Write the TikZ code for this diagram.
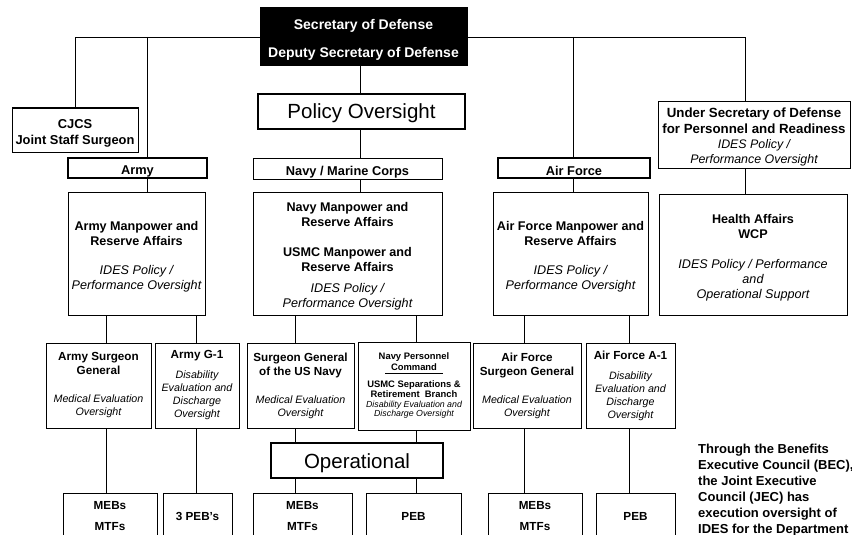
\documentclass[tikz,border=0pt]{standalone}
\usepackage{fontspec}
\setmainfont{Liberation Sans}
\newcommand\remit[1]{{\mdseries\itshape #1}}
\newcommand\smallremit[1]{{\mdseries\itshape\fontsize{10.7}{13}\selectfont #1}}
\newcommand\pad[1]{\rule{0pt}{#1}}
\begin{document}
\begin{tikzpicture}[x=1pt,y=-1pt,
  org/.style={draw, line width=1pt, align=center, inner sep=0pt, font=\bfseries\fontsize{12.6}{15}\selectfont},
  subunit/.style={org, font=\bfseries\fontsize{11.7}{14}\selectfont},
  banner/.style={draw, line width=1.7pt, inner sep=0pt, font=\fontsize{20.5}{24}\selectfont},
  link/.style={line width=0.8pt}]
\useasboundingbox (0,0) rectangle (852,535);
% top of the chain
\node[org, fill=black, text=white, font=\bfseries\fontsize{14}{17}\selectfont, minimum width=207, minimum height=58] (sec) at (363.5,37) {\pad{16pt}Secretary of Defense\\[11pt]Deputy Secretary of Defense};
\node[banner, minimum width=207, minimum height=35] (pol) at (361.5,111.5) {\pad{19pt}Policy Oversight};
\node[org, font=\bfseries\fontsize{12.9}{16}\selectfont, minimum width=126, minimum height=44] (cjcs) at (75,130) {\pad{15.5pt}CJCS\\Joint Staff Surgeon};
\node[org, font=\bfseries\fontsize{13.3}{15.4}\selectfont, minimum width=192, minimum height=66] (usd) at (754,135) {\pad{14pt}Under Secretary of Defense\\for Personnel and Readiness\\{\mdseries\itshape\fontsize{12.4}{15}\selectfont IDES Policy /}\\{\mdseries\itshape\fontsize{12.4}{15}\selectfont Performance Oversight}};
% services
\node[org, line width=1.4pt, font=\bfseries\fontsize{12.8}{15}\selectfont, minimum width=139, minimum height=20] (army) at (137.5,168) {\pad{15pt}Army};
\node[org, font=\bfseries\fontsize{12.8}{15}\selectfont, minimum width=189, minimum height=21] (navy) at (347.5,168.5) {\pad{16pt}Navy / Marine Corps};
\node[org, line width=1.4pt, font=\bfseries\fontsize{12.8}{15}\selectfont, minimum width=152, minimum height=20] (af) at (574,168) {\pad{15pt}Air Force};
% manpower and reserve affairs
\node[org, minimum width=137, minimum height=123] (armymra) at (136.5,253.5) {\pad{15pt}Army Manpower and\\Reserve Affairs\\[14pt]\remit{IDES Policy /}\\\remit{Performance Oversight}};
\node[org, minimum width=189, minimum height=123] (navymra) at (347.5,253.5) {\pad{15pt}Navy Manpower and\\Reserve Affairs\\[15pt]USMC Manpower and\\Reserve Affairs\\[6pt]\remit{IDES Policy /}\\\remit{Performance Oversight}};
\node[org, minimum width=155, minimum height=123] (afmra) at (570.5,253.5) {\pad{15pt}Air Force Manpower and\\Reserve Affairs\\[14pt]\remit{IDES Policy /}\\\remit{Performance Oversight}};
\node[org, minimum width=188, minimum height=121] (ha) at (753,254.5) {\pad{15pt}Health Affairs\\WCP\\[15pt]\remit{IDES Policy / Performance}\\\remit{and}\\\remit{Operational Support}};
% oversight offices
\node[subunit, minimum width=105, minimum height=85] (armysg) at (98.5,385.5) {Army Surgeon\\General\\[14pt]\smallremit{Medical Evaluation}\\[-1pt]\smallremit{Oversight}};
\node[subunit, minimum width=84, minimum height=85] (armyg1) at (197,385.5) {Army G-1\\[6pt]\smallremit{Disability}\\[-1pt]\smallremit{Evaluation and}\\[-1pt]\smallremit{Discharge}\\[-1pt]\smallremit{Oversight}};
\node[subunit, minimum width=107, minimum height=85] (navysg) at (300.5,385.5) {Surgeon General\\of the US Navy\\[14pt]\smallremit{Medical Evaluation}\\[-1pt]\smallremit{Oversight}};
\node[subunit, font=\bfseries\fontsize{9.4}{10.5}\selectfont, minimum width=112, minimum height=88] (npc) at (414,386) {Navy Personnel\\Command\\[-7pt]\rule{58pt}{0.6pt}\\[3pt]USMC Separations \&\\Retirement~ Branch\\[-0.5pt]{\mdseries\itshape\fontsize{8.8}{10}\selectfont Disability Evaluation and}\\[-1.5pt]{\mdseries\itshape\fontsize{8.8}{10}\selectfont Discharge Oversight}};
\node[subunit, minimum width=108, minimum height=85] (afsg) at (527,385.5) {Air Force\\Surgeon General\\[14pt]\smallremit{Medical Evaluation}\\[-1pt]\smallremit{Oversight}};
\node[subunit, minimum width=89, minimum height=85] (afa1) at (630.5,385.5) {Air Force A-1\\[6pt]\smallremit{Disability}\\[-1pt]\smallremit{Evaluation and}\\[-1pt]\smallremit{Discharge}\\[-1pt]\smallremit{Oversight}};
\node[banner, minimum width=172, minimum height=35] (ops) at (357,460.5) {\pad{20pt}Operational};
% field level
\node[subunit, font=\bfseries\fontsize{11.7}{15}\selectfont, minimum width=94, minimum height=47] (armymeb) at (110,516.5) {MEBs\\[6pt]MTFs};
\node[subunit, minimum width=69, minimum height=47] (armypeb) at (197.5,516.5) {3 PEB's};
\node[subunit, font=\bfseries\fontsize{11.7}{15}\selectfont, minimum width=99, minimum height=47] (navymeb) at (302.5,516.5) {MEBs\\[6pt]MTFs};
\node[subunit, minimum width=95, minimum height=47] (navypeb) at (413.5,516.5) {PEB};
\node[subunit, font=\bfseries\fontsize{11.7}{15}\selectfont, minimum width=94, minimum height=47] (afmeb) at (535,516.5) {MEBs\\[6pt]MTFs};
\node[subunit, minimum width=79, minimum height=47] (afpeb) at (635.5,516.5) {PEB};
\node[anchor=north west, align=left, inner sep=0pt, font=\bfseries\fontsize{13}{16}\selectfont] (note) at (698,444) {Through the Benefits\\Executive Council (BEC),\\the Joint Executive\\Council (JEC) has\\execution oversight of\\IDES for the Department};
% connectors
\coordinate (armybus) at (147,37);
\coordinate (navybus) at (360,37);
\coordinate (afbus) at (573,37);
\draw[link] (sec.west) -| (cjcs.north);
\draw[link] (sec.east) -| ([xshift=-9pt]usd.north);
\draw[link] (armybus) -- (armybus |- army.north);
\draw[link] (afbus) -- (afbus |- af.north);
\draw[link] (sec.south -| navybus) -- (pol.north -| navybus);
\draw[link] (pol.south -| navybus) -- (navy.north -| navybus);
\draw[link] (army.south -| armybus) -- (armymra.north -| armybus);
\draw[link] (navy.south -| navybus) -- (navymra.north -| navybus);
\draw[link] (af.south -| afbus) -- (afmra.north -| afbus);
\draw[link] ([xshift=-9pt]usd.south) -- ([xshift=-9pt]usd.south |- ha.north);
\foreach \cx/\boss/\office/\field in {106/armymra/armysg/armymeb, 196/armymra/armyg1/armypeb, 524/afmra/afsg/afmeb, 629/afmra/afa1/afpeb}{
  \draw[link] (\cx,0 |- \boss.south) -- (\cx,0 |- \office.north);
  \draw[link] (\cx,0 |- \office.south) -- (\cx,0 |- \field.north);
}
\foreach \cx/\office/\field in {295/navysg/navymeb, 416/npc/navypeb}{
  \draw[link] (\cx,0 |- navymra.south) -- (\cx,0 |- \office.north);
  \draw[link] (\cx,0 |- \office.south) -- (\cx,0 |- ops.north);
  \draw[link] (\cx,0 |- ops.south) -- (\cx,0 |- \field.north);
}
\end{tikzpicture}
\end{document}
